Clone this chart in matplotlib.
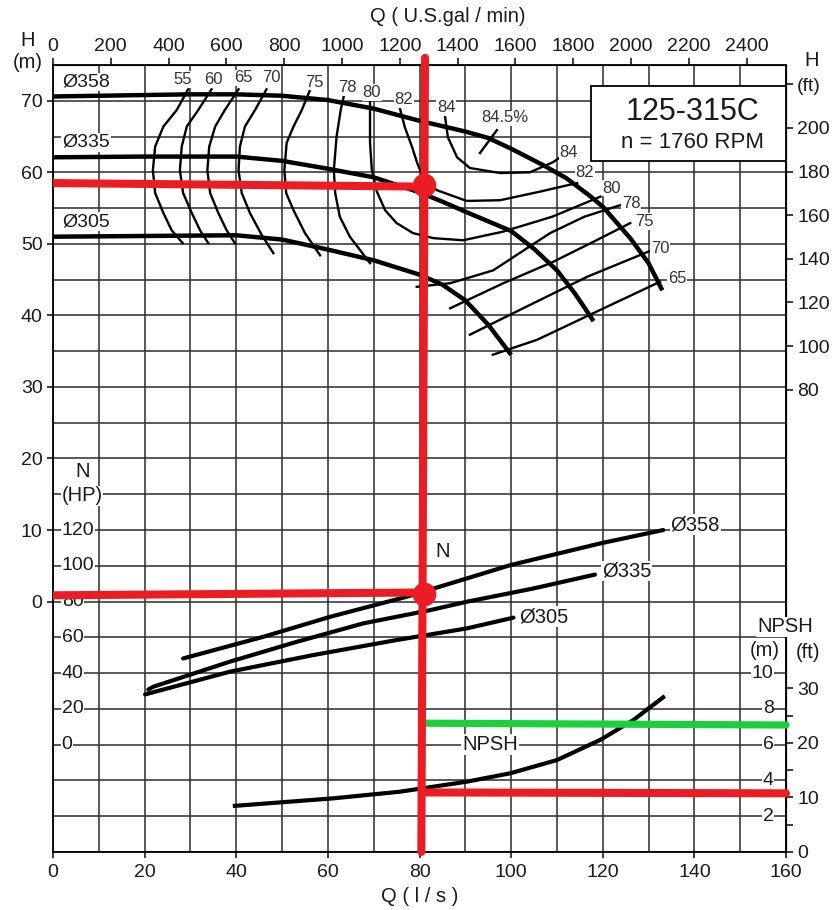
import numpy as np
import matplotlib.pyplot as plt
from matplotlib.patches import Rectangle

plt.rcParams['font.family'] = ['Liberation Sans', 'DejaVu Sans']

# ---------------- data ----------------
GPM_PER_LS = 15.85

# head curves, Q (l/s) vs H (m)
q_358 = [0, 10, 20, 30, 40, 50, 60, 70, 80, 90, 95, 100, 107, 112, 117, 120, 126, 130, 133]
h_358 = [70.6, 70.7, 70.8, 70.9, 70.9, 70.7, 70.1, 68.9, 67.2, 65.7, 64.8, 63.3, 61.0, 59.2, 56.8, 55.2, 50.8, 47.3, 43.5]
q_335 = [0, 20, 40, 50, 60, 70, 80, 85, 90, 100, 105, 110, 114, 118]
h_335 = [62.1, 62.2, 62.2, 61.6, 60.5, 59.3, 57.2, 55.9, 54.5, 51.8, 49.3, 46.3, 43.0, 39.2]
q_305 = [0, 20, 40, 50, 60, 70, 80, 85, 90, 95, 100]
h_305 = [51.0, 51.1, 51.2, 50.6, 49.2, 47.7, 45.7, 44.3, 42.1, 38.7, 34.5]

# efficiency contours (Q l/s, H m)
h_eff_left = [71.6, 68.7, 66.4, 63.6, 60.3, 57.1, 54.3, 51.9, 50.1]
q_eff55 = [29.5, 27.0, 24.1, 22.3, 21.8, 22.3, 24.1, 25.9, 28.3]
q_eff60 = [34.6, 31.7, 29.2, 28.1, 27.7, 28.4, 30.3, 32.1, 33.9]
q_eff65 = [40.5, 37.5, 35.4, 34.1, 33.7, 34.3, 36.1, 37.9, 39.7]
q_eff70 = [46.6, 44.1, 41.9, 40.8, 40.5, 41.2, 43.0, 45.6, 48.1]
h_eff70 = [71.6, 68.7, 66.4, 63.6, 60.3, 57.1, 54.3, 51.2, 48.7]
q_eff75 = [56.1, 54.3, 52.5, 51.0, 50.5, 50.9, 52.5, 55.0, 58.3]
h_eff75 = [71.5, 68.7, 66.4, 64.1, 60.3, 57.1, 54.7, 51.5, 48.4]
q_eff78a = [63.7, 62.8, 61.9, 61.3, 61.6, 62.6, 64.8, 69.2]
h_eff78a = [71.3, 68.7, 65.0, 60.3, 57.1, 53.8, 51.0, 47.3]
q_eff80 = [69.2, 69.2, 69.6, 70.7, 72.5, 75.0, 78.6, 83.0, 89.5, 98.2, 109.0, 119.5]
h_eff80 = [70.3, 64.1, 60.3, 57.3, 54.7, 52.9, 51.5, 50.8, 50.5, 51.7, 53.8, 56.6]
q_eff82 = [75.7, 76.8, 78.4, 79.5, 81.0, 83.8, 90.3, 97.6, 106.3, 114.4]
h_eff82 = [69.0, 66.3, 63.5, 61.3, 58.9, 57.5, 56.0, 56.1, 57.3, 58.5]
q_eff84 = [85.6, 86.2, 88.2, 91.0, 97.6, 104.1, 109.1, 110.5]
h_eff84 = [67.7, 64.9, 62.1, 60.6, 59.9, 60.0, 61.4, 62.0]
q_eff845 = [96.9, 93.2]
h_eff845 = [65.9, 62.7]
q_eff78b = [79.4, 86.7, 96.1, 108.5, 116.0, 123.8]
h_eff78b = [44.0, 44.5, 46.3, 51.5, 53.8, 55.4]
q_eff75b = [86.7, 98.3, 109.2, 118.0, 126.0]
h_eff75b = [41.0, 44.5, 47.5, 50.3, 52.9]
q_eff70b = [91.0, 102.0, 116.6, 130.3]
h_eff70b = [37.3, 40.8, 45.4, 49.0]
q_eff65b = [96.0, 105.7, 117.9, 132.5]
h_eff65b = [34.5, 36.6, 40.3, 44.7]

eff_text = ['55', '60', '65', '70', '75', '78', '80', '82', '84', '84.5%',
            '84', '82', '80', '78', '75', '70', '65']
eff_text_q = [28.4, 35.1, 41.5, 47.6, 57.0, 64.2, 69.6, 76.6, 85.8, 98.7,
              112.6, 116.1, 122.0, 126.2, 129.0, 132.5, 136.2]
eff_text_h = [73.0, 73.0, 73.2, 73.2, 72.6, 71.9, 71.2, 70.2, 69.0, 67.6,
              62.7, 60.0, 57.8, 55.7, 53.1, 49.3, 45.1]

# power curves, Q (l/s) vs N (HP)
q_n358 = [28.4, 45.9, 60.5, 77.2, 100.0, 119.4, 133.2]
n_358 = [48.2, 60.3, 71.5, 82.7, 100.5, 112.5, 120.0]
q_n335 = [20.8, 21.9, 38.6, 53.2, 67.7, 82.3, 90.3, 104.8, 118.3]
n_335 = [30.8, 32.4, 46.4, 57.5, 67.8, 75.2, 79.9, 87.3, 95.1]
q_n305 = [20.1, 38.6, 56.8, 75.0, 90.3, 100.5]
n_305 = [28.1, 40.8, 50.1, 58.5, 65.0, 71.0]

# NPSH required, Q (l/s) vs NPSH (m)
q_npsh = [39.7, 61.2, 75.7, 90.3, 99.8, 110.0, 119.4, 126.7, 133.2]
npsh_m = [2.58, 3.0, 3.37, 3.93, 4.40, 5.14, 6.26, 7.38, 8.65]

# duty point markings
duty_q = 81.0
duty_h = 58.2
duty_n = 84.3
duty_npsh = 3.33
avail_npsh = 7.15

# axis ticks
q_ticks = list(range(0, 161, 20))
gpm_ticks = list(range(0, 2401, 200))
h_ticks = list(range(0, 71, 10))
ft_ticks = [80, 100, 120, 140, 160, 180, 200, 220]
ft_labels = ['80', '100', '120', '140', '160', '180', '200', '(ft)']
n_ticks = [0, 20, 40, 60, 80, 100, 120]
npsh_m_ticks = [2, 4, 6, 8, 10]
npsh_ft_ticks = [0, 10, 20, 30]

# ---------------- figure ----------------
fig = plt.figure(figsize=(8.37, 9.10), dpi=100)
ax = fig.add_axes([0.06332, 0.06374, 0.87575, 0.86484])
ax.set_xlim(0, 160)
ax.set_ylim(-35, 75)

ink = '#1a1a1a'
ax.set_xticks(q_ticks)
ax.set_xticks(np.arange(0, 161, 10), minor=True)
ax.set_yticks(h_ticks)
ax.set_yticks(np.arange(-35, 76, 5), minor=True)
ax.tick_params(which='minor', length=0)
ax.tick_params(axis='x', which='major', direction='out', length=4, width=1.2,
               labelsize=14, pad=5, colors=ink)
ax.tick_params(axis='y', which='major', direction='out', length=4.5, width=1.2,
               labelsize=14, pad=3, colors=ink)
ax.grid(which='both', color='#333333', lw=1.15)
ax.set_axisbelow(True)
for s in ax.spines.values():
    s.set_linewidth(1.3)
    s.set_color('black')

secx = ax.secondary_xaxis('top', functions=(lambda q: q * GPM_PER_LS, lambda g: g / GPM_PER_LS))
secx.set_ticks(gpm_ticks)
secx.tick_params(direction='out', length=5, width=1.2, labelsize=14, pad=2, colors=ink)

secy = ax.secondary_yaxis('right', functions=(lambda h: 3.2808 * h - 17.2, lambda f: (f + 17.2) / 3.2808))
secy.set_ticks(ft_ticks, labels=ft_labels)
secy.tick_params(direction='out', length=5, width=1.2, labelsize=14, pad=3, colors=ink)

secn = ax.secondary_yaxis('right', functions=(lambda h: (h + 35) * 0.4 * 3.2808,
                                              lambda f: f / 3.2808 / 0.4 - 35))
secn.set_ticks(npsh_ft_ticks)
secn.set_ticks([5, 15, 25], minor=True)
secn.tick_params(which='both', direction='out', length=5, width=1.2, labelsize=14, pad=3, colors=ink)

# head curves
thick = 3.2
for q, h in [(q_358, h_358), (q_335, h_335), (q_305, h_305)]:
    ax.plot(q, h, color='black', lw=thick, solid_capstyle='butt', zorder=4)

# efficiency contours
eff_lines = [(q_eff55, h_eff_left), (q_eff60, h_eff_left), (q_eff65, h_eff_left),
             (q_eff70, h_eff70), (q_eff75, h_eff75), (q_eff78a, h_eff78a),
             (q_eff80, h_eff80), (q_eff82, h_eff82), (q_eff84, h_eff84),
             (q_eff845, h_eff845), (q_eff78b, h_eff78b), (q_eff75b, h_eff75b),
             (q_eff70b, h_eff70b), (q_eff65b, h_eff65b)]
for q, h in eff_lines:
    ax.plot(q, h, color='black', lw=1.7, zorder=3)

lbl_box = dict(facecolor='white', edgecolor='none', pad=0.6)
for t, q, h in zip(eff_text, eff_text_q, eff_text_h):
    ax.text(q, h, t, fontsize=12, color='#333333', ha='center', va='center',
            bbox=lbl_box, zorder=5)

for t, h in [('Ø358', 72.6), ('Ø335', 64.2), ('Ø305', 53.1)]:
    ax.text(2.0, h, t, fontsize=14, color=ink, ha='left', va='center',
            bbox=lbl_box, zorder=5)

# duty point on head curve
ax.plot([-0.6, duty_q], [58.5, 58.0], color='#ec1c24', lw=5.8, solid_capstyle='round', zorder=6)
ax.plot([duty_q], [duty_h], 'o', color='#ec1c24', ms=16, zorder=7)

# model box
ax.add_patch(Rectangle((0.734, 0.878), 0.266, 0.095, transform=ax.transAxes,
                       facecolor='white', edgecolor='black', lw=1.3, zorder=8))
ax.text(0.872, 0.940, '125-315C', transform=ax.transAxes, fontsize=22,
        ha='center', va='center', color=ink, zorder=9)
ax.text(0.872, 0.902, 'n = 1760 RPM', transform=ax.transAxes, fontsize=16,
        ha='center', va='center', color=ink, zorder=9)

# power axis (HP): N = 4*H + 80
ax_n = ax.twinx()
ax_n.set_ylim(-60, 380)
ax_n.axis('off')
for q, n in [(q_n358, n_358), (q_n335, n_335), (q_n305, n_305)]:
    ax_n.plot(q, n, color='black', lw=3.0, solid_capstyle='round', zorder=4)
for v in n_ticks:
    ax_n.text(1.9, v, str(v), fontsize=14, color=ink, ha='left', va='center',
              bbox=lbl_box, zorder=5)
ax_n.text(134.8, 123.0, 'Ø358', fontsize=14.5, color=ink, ha='left', va='center', bbox=lbl_box)
ax_n.text(119.8, 97.2, 'Ø335', fontsize=14.5, color=ink, ha='left', va='center', bbox=lbl_box)
ax_n.text(101.7, 71.5, 'Ø305', fontsize=14.5, color=ink, ha='left', va='center', bbox=lbl_box)
ax_n.text(85.1, 107.8, 'N', fontsize=14.5, color=ink, ha='center', va='center')
ax_n.plot([-0.6, duty_q], [duty_n - 0.8, duty_n + 0.8], color='#ec1c24', lw=5.8,
          solid_capstyle='round', zorder=6)
ax_n.plot([duty_q], [duty_n], 'o', color='#ec1c24', ms=16, zorder=7)

# NPSH axis (m): NPSH = 0.4*(H + 35)
ax_p = ax.twinx()
ax_p.set_ylim(0, 44)
ax_p.axis('off')
ax_p.plot(q_npsh, npsh_m, color='black', lw=3.0, zorder=4)
for v in npsh_m_ticks:
    ax_p.text(157.3, v, str(v), fontsize=14, color=ink, ha='right', va='center',
              bbox=lbl_box, zorder=5)
ax_p.text(95.4, 6.0, 'NPSH', fontsize=14.5, color=ink, ha='center', va='center', bbox=lbl_box)
ax_p.plot([duty_q, 160], [avail_npsh + 0.05, avail_npsh - 0.05], color='#1ecf3c', lw=5.2,
          solid_capstyle='round', zorder=6, clip_on=False)
ax_p.plot([duty_q, 160], [duty_npsh, duty_npsh - 0.05], color='#ec1c24', lw=5.8,
          solid_capstyle='round', zorder=6, clip_on=False)
ax_p.plot([81.2, 80.4], [44.4, 0.0], color='#ec1c24', lw=5.8,
          solid_capstyle='round', zorder=8, clip_on=False)

# axis titles
W, H = 837.0, 910.0
def ftxt(x, y, s, **kw):
    fig.text(x / W, 1 - y / H, s, ha='center', va='center', color=ink, **kw)

ftxt(448, 17, 'Q ( U.S.gal / min)', fontsize=14.5)
ftxt(420, 897, 'Q ( l / s )', fontsize=14.5)
ftxt(28, 40, 'H', fontsize=14.5)
ftxt(28, 62, '(m)', fontsize=14.5)
ftxt(812, 60, 'H', fontsize=14.5)
ftxt(83, 471, 'N', fontsize=14.5, bbox=lbl_box)
ftxt(82, 496, '(HP)', fontsize=14.5, bbox=lbl_box)
ftxt(785, 627, 'NPSH', fontsize=14.5, bbox=lbl_box)
ftxt(765, 650, '(m)', fontsize=14.5, bbox=lbl_box)
ftxt(808, 652, '(ft)', fontsize=14.5)

fig.savefig('out.png', dpi=100)
plt.close(fig)
